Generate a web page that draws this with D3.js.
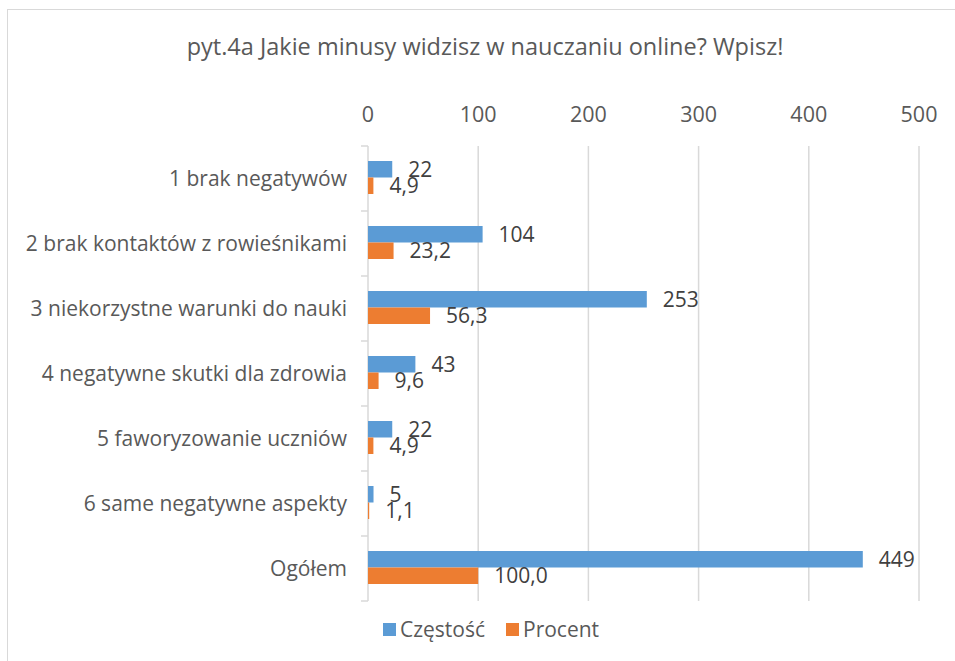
<!DOCTYPE html>
<html lang="pl">
<head>
<meta charset="UTF-8">
<title>pyt.4a</title>
<script src="https://d3js.org/d3.v7.min.js"></script>
<style>
  body { margin: 0; background: #fff; }
  text { font-family: "Open Sans", sans-serif; }
</style>
</head>
<body>
<div id="chart"></div>
<script>
// data
const categories = [
  "1 brak negatywów",
  "2 brak kontaktów z rowieśnikami",
  "3 niekorzystne warunki do nauki",
  "4 negatywne skutki dla zdrowia",
  "5 faworyzowanie uczniów",
  "6 same negatywne aspekty",
  "Ogółem"
];
const czestosc = [22, 104, 253, 43, 22, 5, 449];
const procent = [4.9, 23.2, 56.3, 9.6, 4.9, 1.1, 100.0];
const seriesNames = ["Częstość", "Procent"];
const xTicks = [0, 100, 200, 300, 400, 500];
const title = "pyt.4a Jakie minusy widzisz w nauczaniu online? Wpisz!";

const colors = { "Częstość": "#5b9bd5", "Procent": "#ed7d31" };

const W = 955, H = 661;
const svg = d3.select('#chart').append('svg')
  .attr('width', W)
  .attr('height', H);

// chart border (only top/left visible in the crop)
svg.append('rect')
  .attr('x', 7.5).attr('y', 9.5)
  .attr('width', W + 20).attr('height', H + 20)
  .attr('fill', '#fff')
  .attr('stroke', '#d9d9d9')
  .attr('stroke-width', 1);

const x = d3.scaleLinear().domain([0, 500]).range([368, 919]);
const y = d3.scaleBand().domain(categories).range([146, 601]);
const ySub = d3.scaleBand().domain(seriesNames).range([15, 48]);

// title
svg.append('text')
  .attr('x', 485).attr('y', 55)
  .attr('text-anchor', 'middle')
  .attr('fill', '#595959')
  .attr('font-size', '23.5px')
  .text(title);

// gridlines
svg.append('g').selectAll('line')
  .data(xTicks.slice(1))
  .enter().append('line')
  .attr('x1', d => x(d)).attr('x2', d => x(d))
  .attr('y1', 146).attr('y2', 601)
  .attr('stroke', '#d9d9d9')
  .attr('stroke-width', 1.5);

// top tick labels
svg.append('g').selectAll('text')
  .data(xTicks)
  .enter().append('text')
  .attr('x', d => x(d))
  .attr('y', 122)
  .attr('text-anchor', 'middle')
  .attr('fill', '#595959')
  .attr('font-size', '21.5px')
  .text(d => d);

// left axis with category separators
const axisG = svg.append('g');
axisG.append('line')
  .attr('x1', x(0)).attr('x2', x(0))
  .attr('y1', 146).attr('y2', 601)
  .attr('stroke', '#d9d9d9')
  .attr('stroke-width', 1.5);
const bounds = categories.map(c => y(c)).concat([601]);
axisG.selectAll('line.tick')
  .data(bounds)
  .enter().append('line')
  .attr('class', 'tick')
  .attr('x1', x(0) - 7).attr('x2', x(0))
  .attr('y1', d => d).attr('y2', d => d)
  .attr('stroke', '#d9d9d9')
  .attr('stroke-width', 1.5);

// category labels
svg.append('g').selectAll('text')
  .data(categories)
  .enter().append('text')
  .attr('x', 347)
  .attr('y', d => y(d) + y.bandwidth() / 2)
  .attr('dy', '0.35em')
  .attr('text-anchor', 'end')
  .attr('fill', '#595959')
  .attr('font-size', '21px')
  .text(d => d);

// bars
const rows = categories.map((c, i) => ({ cat: c, vals: [
  { s: "Częstość", v: czestosc[i], label: String(czestosc[i]) },
  { s: "Procent", v: procent[i], label: procent[i].toFixed(1).replace('.', ',') }
]}));

const groups = svg.append('g').selectAll('g')
  .data(rows)
  .enter().append('g')
  .attr('transform', d => `translate(0,${y(d.cat)})`);

groups.selectAll('rect')
  .data(d => d.vals)
  .enter().append('rect')
  .attr('x', x(0))
  .attr('y', d => ySub(d.s))
  .attr('width', d => x(d.v) - x(0))
  .attr('height', ySub.bandwidth())
  .attr('fill', d => colors[d.s]);

groups.selectAll('text')
  .data(d => d.vals)
  .enter().append('text')
  .attr('x', d => x(d.v) + 16)
  .attr('y', d => ySub(d.s) + ySub.bandwidth() / 2)
  .attr('dy', '0.36em')
  .attr('fill', '#404040')
  .attr('font-size', '21px')
  .text(d => d.label);

// legend
const legend = svg.append('g');
const legX = [383, 506];
seriesNames.forEach((s, i) => {
  legend.append('rect')
    .attr('x', legX[i]).attr('y', 623)
    .attr('width', 13).attr('height', 13)
    .attr('fill', colors[s]);
  legend.append('text')
    .attr('x', legX[i] + 17).attr('y', 629.5)
    .attr('dy', '0.36em')
    .attr('fill', '#595959')
    .attr('font-size', '21px')
    .text(s);
});
</script>
</body>
</html>
